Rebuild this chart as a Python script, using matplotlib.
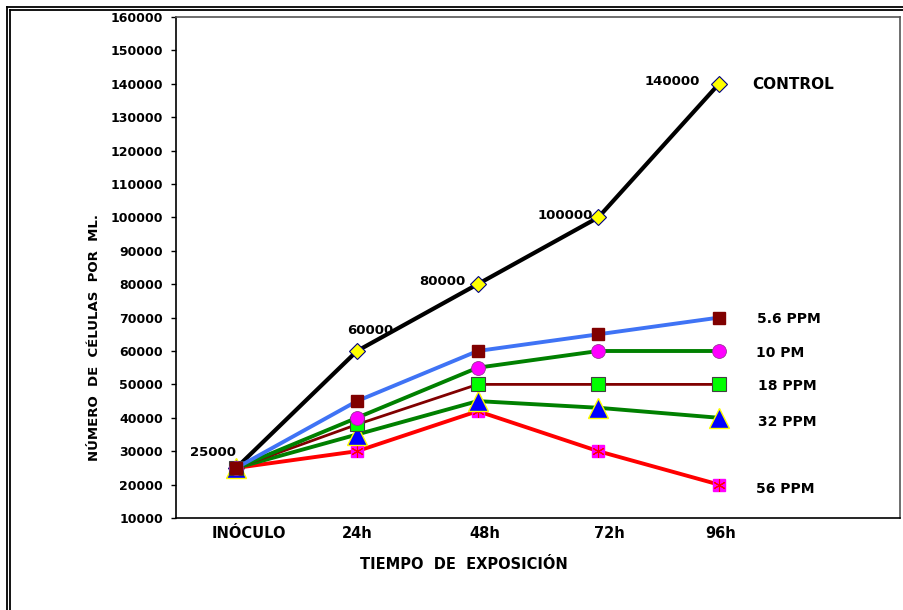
import numpy as np
import matplotlib
matplotlib.use('Agg')
import matplotlib.pyplot as plt
from matplotlib.lines import Line2D

plt.rcParams.update({'font.family': ['DejaVu Sans'],
                     'font.weight': 'bold'})

categories = ['INÓCULO', '24h', '48h', '72h', '96h']
control = [25000, 60000, 80000, 100000, 140000]
ppm_5_6 = [25000, 45000, 60000, 65000, 70000]
ppm_10 = [25000, 40000, 55000, 60000, 60000]
ppm_18 = [25000, 38000, 50000, 50000, 50000]
ppm_32 = [25000, 35000, 45000, 43000, 40000]
ppm_56 = [25000, 30000, 42000, 30000, 20000]
series_names = ['CONTROL', '5.6 PPM', '10 PM', '18 PPM', '32 PPM', '56 PPM']
yticks = np.arange(10000, 160001, 10000)

W, H = 904, 610
fig = plt.figure(figsize=(W / 100, H / 100), dpi=100)
ax = fig.add_axes([176 / W, (H - 518) / H, (900 - 176) / W, (518 - 17) / H])
x = np.arange(len(categories))

# control line first so the treatment lines sit on top of it
ax.plot(x, control, '-', color='black', lw=3.0, marker='D', ms=8.5,
        mfc='#ffff00', mec='#000080', mew=0.8, zorder=3)
ax.plot(x, ppm_56, '-', color='#ff0000', lw=2.8, marker='s', ms=9,
        mfc='#ff00ff', mec='#ff00ff', zorder=4)
ax.plot(x, ppm_56, 'none', marker=(6, 2, 0), ms=9, mec='#ff0000',
        mew=0.8, zorder=4.1)
ax.plot(x, ppm_32, '-', color='#008000', lw=2.8, marker='^', ms=14,
        mfc='#0000ff', mec='#ffff00', mew=1.0, zorder=5)
ax.plot(x, ppm_18, '-', color='#800000', lw=2.0, marker='s', ms=10,
        mfc='#00ff00', mec='#404040', mew=0.8, zorder=6)
ax.plot(x, ppm_10, '-', color='#008000', lw=2.8, marker='o', ms=10,
        mfc='#ff00ff', mec='#993399', mew=0.6, zorder=7)
ax.plot(x, ppm_5_6, '-', color='#3f73f5', lw=2.8, marker='s', ms=9,
        mfc='#800000', mec='#800000', zorder=8)

# data labels on the control series (offsets in pixels, up is positive)
lbl_off = [(-23, 15), (13, 21), (-35, 3), (-33, 2), (-47, 2)]
for xi, yi, (dx, dy) in zip(x, control, lbl_off):
    ax.annotate(f'{yi}', (xi, yi), xytext=(dx, dy), textcoords='offset pixels',
                ha='center', va='center', fontsize=9.5, fontweight='bold')

# series names at the right end
last = [control[-1], ppm_5_6[-1], ppm_10[-1], ppm_18[-1], ppm_32[-1],
        ppm_56[-1]]
name_off = [(33, -1), (38, -1), (37, -2), (39, -2), (39, -4), (37, -4)]
for name, yv, (dx, dy) in zip(series_names, last, name_off):
    ax.annotate(name, (x[-1], yv), xytext=(dx, dy), textcoords='offset pixels',
                ha='left', va='center', fontsize=11 if name == 'CONTROL'
                else 10, fontweight='bold')

ax.set_xlim(-0.5, 5.5)
ax.set_ylim(10000, 160000)
ax.set_yticks(yticks)
ax.set_yticklabels([str(v) for v in yticks], fontsize=9, fontweight='bold')
# the category labels sit slightly off their points in the original
px_per_cat = 121
label_shift = np.array([13, 0, 7, 11, 2]) / px_per_cat
ax.set_xticks(x + label_shift)
ax.set_xticklabels(categories, fontsize=10.5, fontweight='bold')
ax.tick_params(axis='x', length=0, pad=6)
ax.tick_params(axis='y', direction='out', length=3.6, width=1, pad=5.8)
ax.set_xlabel('TIEMPO  DE  EXPOSICIÓN', fontsize=10.5, fontweight='bold')
ax.xaxis.set_label_coords(0.398, -0.077)
ax.set_ylabel('NÚMERO  DE  CÉLULAS  POR  ML.', fontsize=9.5, fontweight='bold')
ax.yaxis.set_label_coords(-0.104, 0.36)
for side in ['left', 'bottom']:
    ax.spines[side].set_color('black')
    ax.spines[side].set_linewidth(1.2)
for side in ['top', 'right']:
    ax.spines[side].set_color('#555555')
    ax.spines[side].set_linewidth(1.2)

# outer double frame (top and left edges visible)
for off in [7, 10]:
    fig.add_artist(Line2D([off / W, 1], [1 - off / H, 1 - off / H],
                          transform=fig.transFigure, color='black', lw=1.3))
    fig.add_artist(Line2D([off / W, off / W], [0, 1 - off / H],
                          transform=fig.transFigure, color='black', lw=1.3))

fig.savefig('out.png', dpi=100)
